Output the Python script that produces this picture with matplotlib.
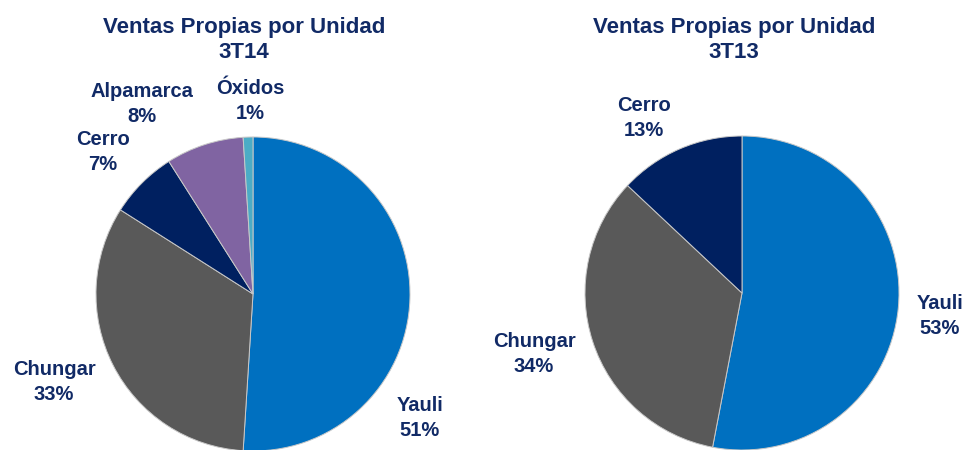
import matplotlib
matplotlib.use("Agg")
import matplotlib.pyplot as plt

plt.rcParams['font.family'] = ['Liberation Sans', 'DejaVu Sans']

# Data
units_14 = ["Yauli", "Chungar", "Cerro", "Alpamarca", "Óxidos"]
share_14 = [51, 33, 7, 8, 1]
units_13 = ["Yauli", "Chungar", "Cerro"]
share_13 = [53, 34, 13]
titles = ["Ventas Propias por Unidad\n3T14", "Ventas Propias por Unidad\n3T13"]

colors = {"Yauli": "#0070C0", "Chungar": "#595959", "Cerro": "#002060",
          "Alpamarca": "#8064A2", "Óxidos": "#4BACC6"}
txt_color = "#112A66"

W, H = 966, 450
fig = plt.figure(figsize=(W / 100, H / 100), dpi=100)

# layout (pixels)
pies = [
    dict(units=units_14, share=share_14, title=titles[0], cx=253, cy=294, r=157,
         tx=244, ty=40,
         lab={"Yauli": (420, 418), "Chungar": (54, 382), "Cerro": (103, 152),
              "Alpamarca": (142, 104), "Óxidos": (250, 101)}),
    dict(units=units_13, share=share_13, title=titles[1], cx=742, cy=293, r=157,
         tx=734, ty=40,
         lab={"Yauli": (940, 316), "Chungar": (534, 354), "Cerro": (644, 118)}),
]

for p in pies:
    r = p["r"]
    ax = fig.add_axes([(p["cx"] - r) / W, (H - p["cy"] - r) / H, 2 * r / W, 2 * r / H])
    ax.pie(p["share"], colors=[colors[u] for u in p["units"]], startangle=90,
           counterclock=False, radius=1,
           wedgeprops=dict(edgecolor="#C8C8C8", linewidth=0.7))
    ax.set_xlim(-1, 1)
    ax.set_ylim(-1, 1)
    ax.set_aspect("equal")
    ax.axis("off")
    fig.text(p["tx"] / W, 1 - p["ty"] / H, p["title"], ha="center", va="center",
             fontsize=16, fontweight="bold", color=txt_color, linespacing=1.3)
    for u, s in zip(p["units"], p["share"]):
        x, y = p["lab"][u]
        fig.text(x / W, 1 - y / H, f"{u}\n{s}%", ha="center", va="center",
                 fontsize=14.5, fontweight="bold", color=txt_color, linespacing=1.4)

fig.savefig("out.png", dpi=100)
